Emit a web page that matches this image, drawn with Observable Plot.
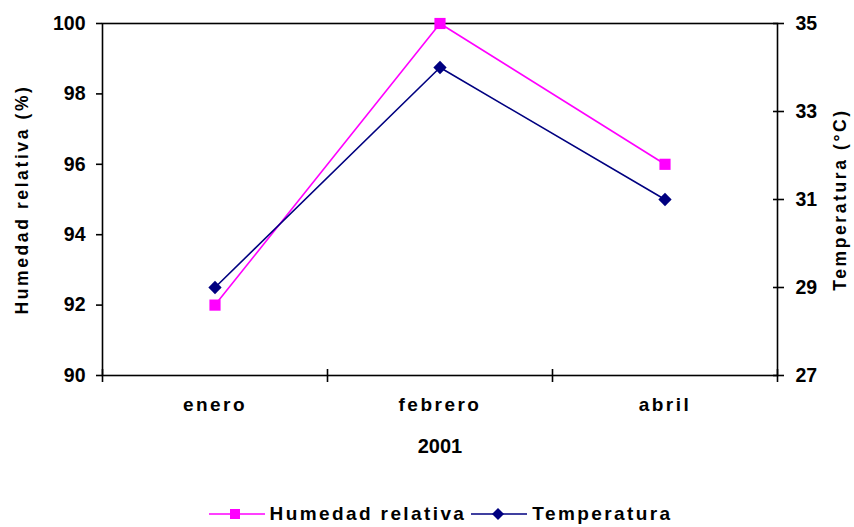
<!DOCTYPE html>
<html>
<head>
<meta charset="utf-8">
<script src="https://cdn.jsdelivr.net/npm/d3@7"></script>
<script src="https://cdn.jsdelivr.net/npm/@observablehq/plot@0.6"></script>
<style>
  html, body { margin: 0; padding: 0; background: #fff; }
  body { width: 854px; height: 527px; overflow: hidden; font-family: "Liberation Sans", Arial, sans-serif; }
  #legend { height: 37px; box-sizing: border-box; padding-top: 11px; padding-left: 27px; display: flex; align-items: center; justify-content: center; font-weight: bold; font-size: 19px; letter-spacing: 2.4px; color: #000; line-height: 26px; }
  #legend .item { display: flex; align-items: center; }
  #legend svg { display: block; margin-right: 5px; }
  #legend .item + .item { margin-left: 5px; }
</style>
</head>
<body>
<div id="chart"></div>
<div id="legend"></div>
<script>
const months = ["enero", "febrero", "abril"];
const humedad = [92, 100, 96];
const temperatura = [29, 34, 31];
const humTicks = [90, 92, 94, 96, 98, 100];
const tempTicks = [27, 29, 31, 33, 35];
const xTitle = "2001";
const yLeftTitle = "Humedad relativa (%)";
const yRightTitle = "Temperatura (°C)";
const seriesNames = ["Humedad relativa", "Temperatura"];
const colors = ["#FF00FF", "#000080"];

const hDomain = [90, 100];
const tDomain = [27, 35];
const toH = t => hDomain[0] + (t - tDomain[0]) * (hDomain[1] - hDomain[0]) / (tDomain[1] - tDomain[0]);
const toT = h => tDomain[0] + (h - hDomain[0]) * (tDomain[1] - tDomain[0]) / (hDomain[1] - hDomain[0]);

const humData = months.map((m, i) => ({i, v: humedad[i]}));
const tempData = months.map((m, i) => ({i, v: toH(temperatura[i])}));

const diamond = {
  draw(context, size) {
    const h = Math.sqrt(size / 2);
    context.moveTo(0, -h);
    context.lineTo(h, 0);
    context.lineTo(0, h);
    context.lineTo(-h, 0);
    context.closePath();
  }
};
const square = {
  draw(context, size) {
    const s = Math.sqrt(size) / 2;
    context.rect(-s, -s, 2 * s, 2 * s);
  }
};

const boundaries = d3.range(months.length + 1).map(k => k - 0.5);

const plot = Plot.plot({
  width: 854,
  height: 490,
  marginLeft: 102,
  marginRight: 77,
  marginTop: 23,
  marginBottom: 115,
  style: {fontFamily: "'Liberation Sans', Arial, sans-serif", fontSize: "19px", fontWeight: "bold", color: "#000", background: "#fff"},
  x: {type: "linear", domain: [-0.5, months.length - 0.5]},
  y: {type: "linear", domain: hDomain},
  marks: [
    Plot.frame({stroke: "#000", strokeWidth: 1.6}),
    Plot.axisY({anchor: "left", ticks: humTicks, tickSize: 6, tickPadding: 11, tickFormat: d => String(d), label: null, strokeWidth: 1.6, fontSize: 19.5}),
    Plot.axisY({anchor: "right", ticks: tempTicks.map(toH), tickSize: 6, tickPadding: 12, tickFormat: h => String(Math.round(toT(h))), label: null, strokeWidth: 1.6, fontSize: 19.5}),
    Plot.axisY({anchor: "right", ticks: tempTicks.map(toH), tickSize: 5, dx: -5, tickFormat: () => "", label: null, strokeWidth: 1.6}),
    Plot.axisX({anchor: "bottom", ticks: boundaries, tickSize: 13, dy: -6, tickFormat: () => "", label: null, strokeWidth: 1.6}),
    Plot.axisX({anchor: "bottom", ticks: d3.range(months.length), tickSize: 0, tickPadding: 22, tickFormat: i => months[i], label: null}),
    Plot.text([xTitle], {frameAnchor: "bottom", dy: 71, fontSize: 20, textAnchor: "middle", lineAnchor: "middle"}),
    Plot.text([yLeftTitle], {frameAnchor: "left", dx: -80, rotate: -90, fontSize: 17.5, textAnchor: "middle", lineAnchor: "middle"}),
    Plot.text([yRightTitle], {frameAnchor: "right", dx: 63, rotate: -90, fontSize: 17.5, textAnchor: "middle", lineAnchor: "middle"}),
    Plot.line(humData, {x: "i", y: "v", stroke: colors[0], strokeWidth: 1.6}),
    Plot.line(tempData, {x: "i", y: "v", stroke: colors[1], strokeWidth: 1.6}),
    Plot.dot(humData, {x: "i", y: "v", symbol: square, r: 6.3, fill: colors[0], stroke: "none"}),
    Plot.dot(tempData, {x: "i", y: "v", symbol: diamond, r: 5.3, fill: colors[1], stroke: "none"})
  ]
});
document.getElementById("chart").appendChild(plot);

const svg = d3.select(plot);
svg.selectAll("text").each(function () {
  const t = this.textContent;
  const s = d3.select(this);
  if (months.includes(t)) {
    s.style("font-size", "19px").style("letter-spacing", "2.5px");
  } else if (t === yLeftTitle || t === yRightTitle) {
    s.style("font-size", "17.5px").style("letter-spacing", "2.6px");
  } else if (t === xTitle) {
    s.style("font-size", "20px");
  } else if (t !== "") {
    s.style("font-size", "19.5px");
  }
  s.style("font-weight", "bold");
});

const legend = d3.select("#legend");
seriesNames.forEach((name, k) => {
  const item = legend.append("div").attr("class", "item");
  const sw = item.append("svg").attr("width", 56).attr("height", 16);
  sw.append("line").attr("x1", 0).attr("x2", 56).attr("y1", 8).attr("y2", 8).attr("stroke", colors[k]).attr("stroke-width", 1.6);
  if (k === 0) {
    sw.append("rect").attr("x", 21).attr("y", 3).attr("width", 10).attr("height", 10).attr("fill", colors[k]);
  } else {
    sw.append("path").attr("d", "M27,2L33,8L27,14L21,8Z").attr("fill", colors[k]);
  }
  item.append("span").text(name);
});
</script>
</body>
</html>
